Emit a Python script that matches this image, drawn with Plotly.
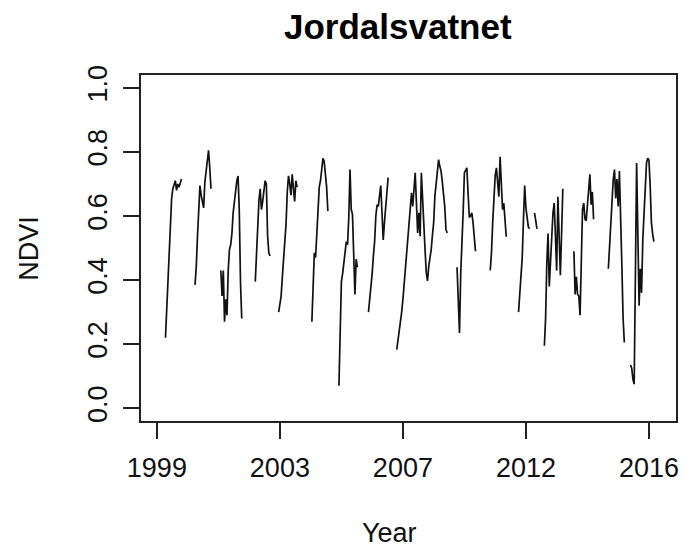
import numpy as np
import plotly.graph_objects as go

# NDVI series for Jordalsvatnet, one value per 16-day composite (index = observation number).
# Each run of valid observations is stored with the index of its first observation;
# everything between runs is missing (cloud / snow).
n_obs = 406

run_starts = [7, 31, 52, 80, 99, 126, 148, 172, 195, 244, 271, 294, 307, 315, 339, 367, 385]

run_1 = [0.22, 0.305, 0.42, 0.495, 0.585, 0.655, 0.685, 0.70, 0.71, 0.68, 0.70, 0.69, 0.705, 0.715]
run_2 = [0.385, 0.44, 0.535, 0.635, 0.695, 0.665, 0.64, 0.625, 0.705, 0.745, 0.78, 0.805, 0.75, 0.685]
run_3 = [0.43, 0.35, 0.43, 0.27, 0.34, 0.29, 0.43, 0.495, 0.51, 0.545, 0.61, 0.65, 0.685, 0.71,
         0.725, 0.615, 0.39, 0.28]
run_4 = [0.395, 0.48, 0.59, 0.65, 0.685, 0.62, 0.645, 0.69, 0.71, 0.70, 0.54, 0.485, 0.475]
run_5 = [0.30, 0.32, 0.35, 0.41, 0.47, 0.505, 0.575, 0.675, 0.725, 0.70, 0.665, 0.73, 0.69, 0.645,
         0.71, 0.69]
run_6 = [0.27, 0.38, 0.485, 0.47, 0.55, 0.655, 0.69, 0.71, 0.755, 0.78, 0.77, 0.73, 0.69, 0.615]
run_7 = [0.07, 0.23, 0.395, 0.42, 0.45, 0.48, 0.52, 0.51, 0.595, 0.745, 0.62, 0.605, 0.465, 0.355,
         0.465, 0.44]
run_8 = [0.30, 0.34, 0.37, 0.42, 0.475, 0.52, 0.60, 0.635, 0.63, 0.67, 0.695, 0.61, 0.525, 0.58,
         0.63, 0.695, 0.72]
run_9 = [0.183, 0.209, 0.235, 0.261, 0.30, 0.339, 0.39, 0.438, 0.48, 0.521, 0.57, 0.62, 0.672,
         0.63, 0.703, 0.735, 0.641, 0.547, 0.61, 0.537, 0.735, 0.641, 0.57, 0.495, 0.423, 0.397,
         0.443, 0.464, 0.495, 0.54, 0.579, 0.662, 0.703, 0.745, 0.776, 0.755, 0.74, 0.708, 0.67,
         0.63, 0.558, 0.547]
run_10 = [0.44, 0.34, 0.235, 0.42, 0.495, 0.615, 0.735, 0.745, 0.75, 0.67, 0.595, 0.60, 0.61,
          0.58, 0.52, 0.49]
run_11 = [0.43, 0.485, 0.58, 0.66, 0.725, 0.75, 0.695, 0.66, 0.785, 0.715, 0.62, 0.64, 0.58, 0.535]
run_12 = [0.30, 0.35, 0.41, 0.47, 0.59, 0.695, 0.625, 0.595, 0.565, 0.56]
run_13 = [0.61, 0.585, 0.56]
run_14 = [0.195, 0.28, 0.455, 0.545, 0.38, 0.465, 0.56, 0.61, 0.64, 0.525, 0.43, 0.66, 0.535,
          0.415, 0.545, 0.685]
run_15 = [0.49, 0.355, 0.41, 0.355, 0.35, 0.29, 0.455, 0.62, 0.64, 0.59, 0.585, 0.635, 0.66,
          0.73, 0.635, 0.675, 0.59]
run_16 = [0.435, 0.505, 0.60, 0.655, 0.715, 0.745, 0.655, 0.715, 0.63, 0.74, 0.625, 0.445, 0.28,
          0.205]
run_17 = [0.135, 0.125, 0.09, 0.075, 0.415, 0.765, 0.545, 0.32, 0.435, 0.36, 0.525, 0.615, 0.695,
          0.765, 0.78, 0.775, 0.695, 0.58, 0.545, 0.52]

runs = [run_1, run_2, run_3, run_4, run_5, run_6, run_7, run_8, run_9, run_10, run_11, run_12,
        run_13, run_14, run_15, run_16, run_17]

year_tick_pos = [0, 100, 200, 300, 400]
year_tick_text = ["1999", "2003", "2007", "2012", "2016"]
ndvi_ticks = [0.0, 0.2, 0.4, 0.6, 0.8, 1.0]

ndvi = np.full(n_obs, np.nan)
for start, vals in zip(run_starts, runs):
    ndvi[start:start + len(vals)] = vals

obs_index = np.arange(n_obs)
ndvi_list = [None if np.isnan(v) else float(v) for v in ndvi]

font = "Liberation Sans, Arial, sans-serif"

fig = go.Figure()
fig.add_trace(go.Scatter(
    x=obs_index, y=ndvi_list, mode="lines",
    line=dict(color="#111111", width=1.7),
    connectgaps=False, showlegend=False, hoverinfo="skip",
))

axis_common = dict(
    showgrid=False, zeroline=False, showline=True, mirror=True,
    linecolor="#222222", linewidth=1.5,
    ticks="outside", ticklen=16, tickwidth=1.5, tickcolor="#222222",
    tickfont=dict(family=font, size=27, color="#111111"),
)

fig.update_xaxes(
    range=[-12.9, 422], tickmode="array",
    tickvals=year_tick_pos, ticktext=year_tick_text,
    ticklabelstandoff=6, **axis_common,
)
fig.update_yaxes(
    range=[-0.04, 1.04], tickmode="array",
    tickvals=ndvi_ticks, ticktext=[f"{v:.1f}" for v in ndvi_ticks],
    tickangle=-90, ticklabelstandoff=5, **axis_common,
)

fig.update_layout(
    width=687, height=548, autosize=False,
    margin=dict(l=141, r=8, t=75, b=127),
    paper_bgcolor="white", plot_bgcolor="white",
    annotations=[
        dict(text="<b>Jordalsvatnet</b>", x=0.481, y=1.139, xref="paper", yref="paper",
             showarrow=False, font=dict(family=font, size=35, color="black"),
             xanchor="center", yanchor="middle"),
        dict(text="Year", x=0.465, y=-0.324, xref="paper", yref="paper",
             showarrow=False, font=dict(family=font, size=27, color="#111111"),
             xanchor="center", yanchor="middle"),
        dict(text="NDVI", x=-0.21, y=0.5, xref="paper", yref="paper", textangle=-90,
             showarrow=False, font=dict(family=font, size=27, color="#111111"),
             xanchor="center", yanchor="middle"),
    ],
)

fig.write_html("out.html")
